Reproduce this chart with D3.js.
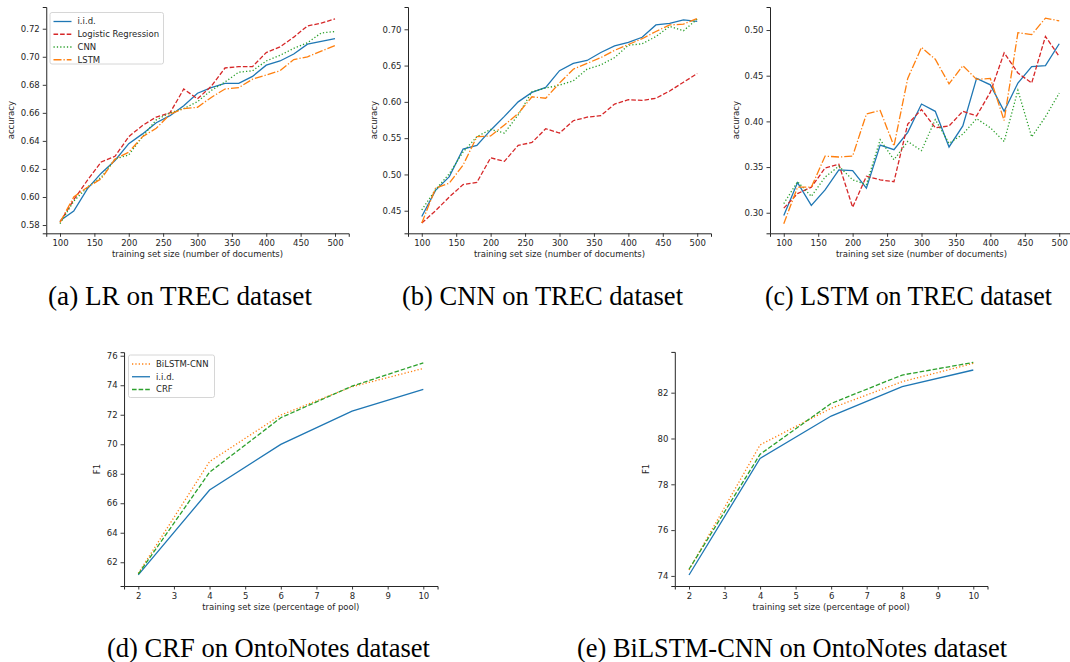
<!DOCTYPE html>
<html><head><meta charset="utf-8">
<script src="https://cdn.jsdelivr.net/npm/d3@7"></script>
<style>
body{margin:0;background:#fff;}
svg{display:block;}
</style>
</head><body>
<svg id="chart" width="1070" height="662"></svg>
<script>
// ---------- data ----------
const trecSizes = [100,120,140,160,180,200,220,240,260,280,300,320,340,360,380,400,420,440,460,480,500];
const trecTicksX = [100,150,200,250,300,350,400,450,500];

// (a) LR on TREC
const aIID  = [0.583,0.590,0.606,0.617,0.626,0.638,0.645,0.653,0.658,0.665,0.674,0.678,0.681,0.681,0.686,0.694,0.697,0.702,0.709,0.711,0.713];
const aLR   = [0.582,0.598,0.612,0.625,0.629,0.643,0.651,0.657,0.660,0.677,0.670,0.679,0.692,0.693,0.693,0.703,0.707,0.714,0.722,0.724,0.727];
const aCNN  = [0.581,0.597,0.607,0.614,0.627,0.630,0.643,0.655,0.660,0.663,0.668,0.676,0.682,0.689,0.690,0.697,0.701,0.706,0.710,0.717,0.718];
const aLSTM = [0.582,0.600,0.607,0.613,0.627,0.632,0.643,0.649,0.659,0.663,0.664,0.671,0.677,0.678,0.684,0.687,0.690,0.698,0.700,0.704,0.708];
const aTicksY = [0.58,0.60,0.62,0.64,0.66,0.68,0.70,0.72];

// (b) CNN on TREC
const bIID  = [0.442,0.478,0.497,0.535,0.540,0.561,0.580,0.600,0.613,0.620,0.643,0.653,0.657,0.668,0.677,0.682,0.689,0.706,0.708,0.713,0.711];
const bLR   = [0.433,0.450,0.469,0.486,0.489,0.523,0.518,0.540,0.544,0.563,0.557,0.574,0.579,0.581,0.597,0.603,0.602,0.605,0.615,0.627,0.639];
const bCNN  = [0.451,0.479,0.501,0.531,0.552,0.562,0.557,0.582,0.614,0.619,0.623,0.629,0.645,0.651,0.661,0.678,0.680,0.690,0.704,0.698,0.714];
const bLSTM = [0.433,0.481,0.488,0.513,0.552,0.553,0.568,0.584,0.607,0.605,0.626,0.645,0.653,0.661,0.671,0.679,0.687,0.697,0.706,0.707,0.715];
const bTicksY = [0.45,0.50,0.55,0.60,0.65,0.70];

// (c) LSTM on TREC
const cIID  = [0.297,0.333,0.308,0.325,0.347,0.346,0.327,0.374,0.369,0.388,0.419,0.411,0.372,0.395,0.447,0.440,0.411,0.442,0.460,0.461,0.485];
const cLR   = [0.305,0.321,0.328,0.349,0.353,0.306,0.340,0.336,0.334,0.397,0.413,0.393,0.395,0.411,0.406,0.432,0.475,0.453,0.442,0.493,0.471];
const cCNN  = [0.310,0.334,0.318,0.339,0.351,0.336,0.331,0.380,0.358,0.378,0.368,0.402,0.376,0.386,0.403,0.393,0.378,0.434,0.383,0.405,0.431];
const cLSTM = [0.288,0.328,0.328,0.362,0.361,0.362,0.408,0.412,0.373,0.447,0.481,0.468,0.441,0.461,0.446,0.447,0.401,0.497,0.495,0.513,0.510];
const cTicksY = [0.30,0.35,0.40,0.45,0.50];

// (d),(e) OntoNotes
const poolSizes = [2,4,6,8,10];
const poolTicksX = [2,3,4,5,6,7,8,9,10];
const dBiLSTM = [61.25,68.82,71.98,73.90,75.14];
const dIID    = [61.14,66.90,69.99,72.25,73.72];
const dCRF    = [61.20,68.10,71.80,73.94,75.52];
const dTicksY = [62,64,66,68,70,72,74,76];
const eBiLSTM = [74.26,79.72,81.32,82.48,83.28];
const eIID    = [74.04,79.13,80.98,82.26,82.99];
const eCRF    = [74.29,79.31,81.53,82.77,83.32];
const eTicksY = [74,76,78,80,82];

const captions = ["(a) LR on TREC dataset","(b) CNN on TREC dataset","(c) LSTM on TREC dataset",
                  "(d) CRF on OntoNotes dataset","(e) BiLSTM-CNN on OntoNotes dataset"];

// ---------- styles ----------
const C = {blue:"#1f77b4", orange:"#ff7f0e", green:"#2ca02c", red:"#d62728"};
const DASH = {solid:null, dashed:"4.6,2", dotted:"1.25,2.1", dashdot:"8,2,1.25,2"};
const FONT = "'DejaVu Sans', sans-serif";
const FS = 8.5;

const svg = d3.select("#chart");

function panel(cfg){
  const g = svg.append("g");
  const x = d3.scaleLinear().domain(cfg.xDomain).range([cfg.left, cfg.right]);
  const y = d3.scaleLinear().domain(cfg.yDomain).range([cfg.bottom, cfg.top]);

  const xa = g.append("g").attr("transform",`translate(0,${cfg.bottom})`)
    .call(d3.axisBottom(x).tickValues(cfg.xTicks).tickFormat(cfg.xFmt).tickSizeOuter(0).tickSize(3.5).tickPadding(3));
  const ya = g.append("g").attr("transform",`translate(${cfg.left},0)`)
    .call(d3.axisLeft(y).tickValues(cfg.yTicks).tickFormat(cfg.yFmt).tickSizeOuter(0).tickSize(3.5).tickPadding(3));
  [xa,ya].forEach(a=>{
    a.selectAll(".domain").attr("stroke","#262626").attr("stroke-width",1);
    a.selectAll(".tick line").attr("stroke","#262626").attr("stroke-width",0.9);
    a.selectAll("text").attr("font-family",FONT).attr("font-size",FS).attr("fill","#262626");
  });

  g.append("text").attr("x",(cfg.left+cfg.right)/2).attr("y",cfg.bottom+24)
    .attr("text-anchor","middle").attr("font-family",FONT).attr("font-size",FS).attr("fill","#262626")
    .text(cfg.xLabel);
  g.append("text").attr("transform",`translate(${cfg.yLabelX},${(cfg.top+cfg.bottom)/2}) rotate(-90)`)
    .attr("text-anchor","middle").attr("font-family",FONT).attr("font-size",FS).attr("fill","#262626")
    .text(cfg.yLabel);

  const line = d3.line().x((d,i)=>x(cfg.xs[i])).y(d=>y(d));
  cfg.series.forEach(s=>{
    g.append("path").datum(s.values).attr("d",line).attr("fill","none")
      .attr("stroke",s.color).attr("stroke-width",1.3)
      .attr("stroke-dasharray",DASH[s.dash]);
  });

  if(cfg.legend){
    const L = cfg.legend;
    const lg = g.append("g");
    lg.append("rect").attr("x",L.x).attr("y",L.y).attr("width",L.w).attr("height",L.h)
      .attr("rx",2).attr("fill","#fff").attr("fill-opacity",0.8).attr("stroke","#cccccc").attr("stroke-width",0.8);
    L.order.forEach((idx,k)=>{
      const s = cfg.series[idx];
      const yy = L.y + 9 + k*12.75;
      lg.append("line").attr("x1",L.x+3.5).attr("x2",L.x+21.5).attr("y1",yy).attr("y2",yy)
        .attr("stroke",s.color).attr("stroke-width",1.3).attr("stroke-dasharray",DASH[s.dash]);
      lg.append("text").attr("x",L.x+27.5).attr("y",yy).attr("dy","0.35em")
        .attr("font-family",FONT).attr("font-size",FS).attr("fill","#262626").text(s.name);
    });
  }

  svg.append("text").attr("x",cfg.capX).attr("y",cfg.capY).attr("text-anchor","middle")
    .attr("font-family","'Liberation Serif','Times New Roman',serif").attr("font-size",27).attr("fill","#000")
    .attr("textLength",cfg.capW).attr("lengthAdjust","spacingAndGlyphs")
    .text(cfg.caption);
}

const f2 = d3.format(".2f"), fd = d3.format("d");
const trecSeries = (iid,lr,cnn,lstm)=>[
  {name:"i.i.d.", values:iid, color:C.blue, dash:"solid"},
  {name:"Logistic Regression", values:lr, color:C.red, dash:"dashed"},
  {name:"CNN", values:cnn, color:C.green, dash:"dotted"},
  {name:"LSTM", values:lstm, color:C.orange, dash:"dashdot"}];
const poolSeries = (bil,iid,crf)=>[
  {name:"BiLSTM-CNN", values:bil, color:C.orange, dash:"dotted"},
  {name:"i.i.d.", values:iid, color:C.blue, dash:"solid"},
  {name:"CRF", values:crf, color:C.green, dash:"dashed"}];

const trecX = {xs:trecSizes, xDomain:[80,520], xTicks:trecTicksX, xFmt:fd,
  xLabel:"training set size (number of documents)", yLabel:"accuracy", yFmt:f2, top:7, bottom:233.3};
const poolX = {xs:poolSizes, xDomain:[1.6,10.4], xTicks:poolTicksX, xFmt:fd,
  xLabel:"training set size (percentage of pool)", yLabel:"F1", yFmt:fd, bottom:586};

panel(Object.assign({}, trecX, {left:46.25, right:348.75, yDomain:[0.5741,0.7355], yTicks:aTicksY,
  yLabelX:14, series:trecSeries(aIID,aLR,aCNN,aLSTM),
  legend:{x:50,y:12.5,w:113.5,h:51.5,order:[0,1,2,3]}, caption:captions[0], capX:180, capY:305, capW:264}));
panel(Object.assign({}, trecX, {left:408, right:711, yDomain:[0.4189,0.7307], yTicks:bTicksY,
  yLabelX:377, series:trecSeries(bIID,bLR,bCNN,bLSTM), caption:captions[1], capX:542.5, capY:305, capW:281}));
panel(Object.assign({}, trecX, {left:770, right:1073, yDomain:[0.2775,0.5252], yTicks:cTicksY,
  yLabelX:739, series:trecSeries(cIID,cLR,cCNN,cLSTM), caption:captions[2], capX:908.5, capY:305, capW:287}));
panel(Object.assign({}, poolX, {left:124.05, right:437.55, top:352.2, yDomain:[60.39,76.24], yTicks:dTicksY,
  yLabelX:100, series:poolSeries(dBiLSTM,dIID,dCRF),
  legend:{x:128.5,y:355,w:86,h:42.5,order:[0,1,2]}, caption:captions[3], capX:268.5, capY:657, capW:323}));
panel(Object.assign({}, poolX, {left:674.8, right:987.5, top:351.9, yDomain:[73.56,83.78], yTicks:eTicksY,
  yLabelX:648.5, series:poolSeries(eBiLSTM,eIID,eCRF), caption:captions[4], capX:792, capY:657, capW:430}));
</script>
</body></html>
